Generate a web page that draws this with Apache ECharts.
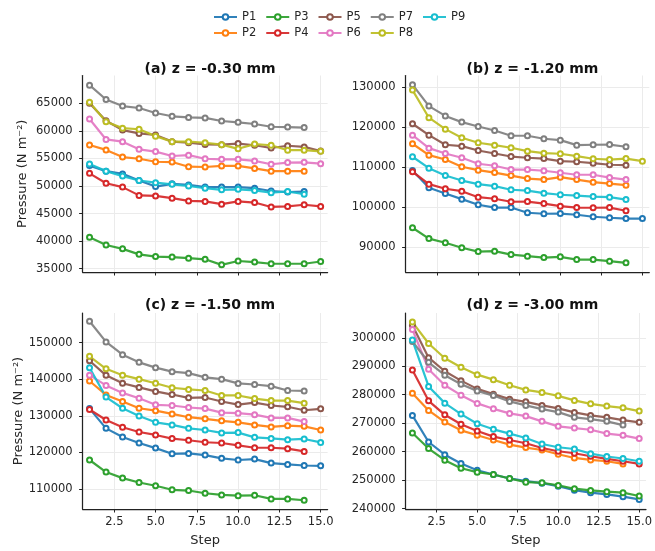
<!DOCTYPE html>
<html><head><meta charset="utf-8">
<script src="https://cdn.jsdelivr.net/npm/echarts@6/dist/echarts.min.js"></script>
<style>html,body{margin:0;padding:0;background:#fff}#c{width:655px;height:551px}</style>
</head><body><div id="c"></div>
<script>
const steps = [1,2,3,4,5,6,7,8,9,10,11,12,13,14,15];
const seriesNames = ['P1','P2','P3','P4','P5','P6','P7','P8','P9'];
const seriesColors = ['#1f77b4','#ff7f0e','#2ca02c','#d62728','#8c564b','#e377c2','#7f7f7f','#bcbd22','#17becf'];
const panelTitles = ['(a) z = -0.30 mm','(b) z = -1.20 mm','(c) z = -1.50 mm','(d) z = -3.00 mm'];
const xTicks = [2.5,5,7.5,10,12.5,15];
const yTicksA = [35000,40000,45000,50000,55000,60000,65000];
const yTicksB = [90000,100000,110000,120000,130000];
const yTicksC = [110000,120000,130000,140000,150000];
const yTicksD = [240000,250000,260000,270000,280000,290000,300000];

// panel (a) z = -0.30 mm : P1..P9
const panelA = [
  [53700,52700,52200,51000,49900,50400,50200,49800,49800,49800,49600,49100,48900,49000],
  [57450,56550,55250,54950,54400,54350,53500,53450,53650,53650,53200,52700,52700,52700],
  [40700,39300,38600,37600,37200,37100,36900,36700,35700,36400,36200,35900,35900,35900,36300],
  [52300,50500,49800,48300,48200,47800,47300,47200,46700,47200,47000,46200,46300,46600,46300],
  [65000,61850,60150,59550,59250,58050,57850,57550,57500,57700,57400,56900,57300,57100,56350],
  [62150,58450,58050,56650,56250,55450,55600,54950,54850,54850,54550,53950,54250,54300,54050],
  [68300,65700,64500,64150,63250,62650,62450,62350,61800,61550,61250,60750,60700,60600],
  [65200,61650,60500,60300,59050,58050,58050,57850,57500,56750,57600,57400,56500,56500,56300],
  [54000,52700,51800,51000,50600,50300,50000,49600,49300,49400,49200,48800,49000,48500]
];
// panel (b) z = -1.20 mm
const panelB = [
  [109150,104850,103400,102000,100600,99900,99900,98600,98350,98400,98100,97600,97350,97150,97150],
  [115850,113000,111900,110100,109250,108650,107900,107150,106900,107500,106900,106250,105900,105500],
  [94850,92150,91100,89850,88900,89000,88150,87750,87400,87600,86900,86900,86500,86100],
  [108850,105750,104600,104000,102500,102100,101350,101400,100900,100250,99900,99850,99900,99100],
  [120850,118000,115600,115250,114150,113400,112650,112350,112150,111500,111350,111000,110600,110500],
  [118000,114750,113400,112350,110850,110350,109400,109400,109100,108600,108100,108100,107400,106900],
  [130600,125250,122800,121250,120150,119150,117850,117850,117100,116750,115500,115600,115650,115100],
  [129250,122350,119500,117350,116100,115500,114850,114000,113500,113350,112750,112100,111900,112150,111500],
  [112600,109750,107900,106650,105750,105250,104350,104150,103500,103100,102900,102650,102500,101900]
];
// panel (c) z = -1.50 mm
const panelC = [
  [131950,126550,124200,122550,121150,119600,119700,119250,118350,117900,118150,117050,116700,116400,116300],
  [139500,135700,133900,132050,131400,130500,129600,129150,128600,128200,127500,126950,127300,127100,126100],
  [117900,114600,112950,111750,110850,109750,109550,108800,108350,108150,108250,107250,107250,106900],
  [131700,128850,126850,125550,124750,123750,123300,122750,122550,121900,121250,121250,121000,120250],
  [145050,141050,138900,137750,136650,135800,134900,135000,133900,133050,133600,132800,132450,131500,131900],
  [141100,138300,136250,134800,133000,132800,132250,131950,130850,130700,130300,129400,129400,128400],
  [155850,150200,146700,144600,143150,142050,141650,140500,140000,138850,138550,138100,136900,136800],
  [146250,142850,141100,140000,138900,137650,137200,136900,135550,135550,134700,134150,134150,133450],
  [143150,135100,132050,129950,128200,127500,126550,126100,125300,125400,124100,123800,123450,123650,122700]
];
// panel (d) z = -3.00 mm
const panelD = [
  [272750,263400,258950,255850,253500,252000,250600,249650,248950,247900,246500,245600,245000,244200,243250],
  [280550,274500,270400,267500,265750,264100,262500,261450,260600,259100,257800,257100,256650,255700],
  [266550,261100,257000,254200,252800,252000,250600,249300,249100,248150,247000,246400,245950,245600,244450],
  [288700,277850,272950,269650,267250,265300,264100,262950,261300,260150,259450,258400,257450,256650,255700],
  [304400,293000,288250,284950,282050,280200,278450,277500,276250,275200,273800,272750,272050,271100,270300],
  [302900,288950,283350,279850,276950,275050,273450,272500,270650,268900,268300,267700,266350,265750,264600],
  [298700,291400,286850,283700,281350,279700,277650,276250,274950,273900,272050,271450,270650,269350],
  [305500,298000,292800,289650,287050,285300,283350,281700,280800,279600,278000,276800,276000,275400,274250],
  [299200,282900,277050,273200,269800,267850,266350,264800,262700,261550,260950,259300,258300,257600,256650]
];

const panels = [panelA, panelB, panelC, panelD];
const yTickSets = [yTicksA, yTicksB, yTicksC, yTicksD];
const yRanges = [[34400,70050],[83800,132900],[104500,158100],[239875,308700]];

const FONT = 'DejaVu Sans';
const TXT = '#262626';
const grids = [
  {left: 82.6, top: 75.5, width: 245, height: 196.5},
  {left: 405.6, top: 75.5, width: 243.7, height: 196.5},
  {left: 82.6, top: 313, width: 245, height: 196},
  {left: 405.6, top: 313, width: 243.7, height: 196}
];

const chart = echarts.init(document.getElementById('c'), null, {renderer: 'canvas'});

const xAxes = grids.map((g, p) => ({
  type: 'value', gridIndex: p, min: 0.58, max: 15.42,
  name: p >= 2 ? 'Step' : '', nameLocation: 'middle', nameGap: 25,
  nameTextStyle: {fontFamily: FONT, fontSize: 13, color: TXT},
  axisLine: {show: true, lineStyle: {color: '#222', width: 1.25}},
  axisTick: {show: true, length: 3.5, lineStyle: {color: '#222', width: 1}, customValues: xTicks},
  axisLabel: {show: p >= 2, customValues: xTicks, margin: 7, fontFamily: FONT, fontSize: 11.5, color: TXT,
    formatter: v => Number(v).toFixed(1)},
  splitLine: {show: true, lineStyle: {color: '#ebebeb', width: 1}}
}));
const yAxes = grids.map((g, p) => ({
  type: 'value', gridIndex: p, min: yRanges[p][0], max: yRanges[p][1],
  name: (p % 2 === 0) ? 'Pressure (N m\u207B\u00B2)' : '', nameLocation: 'middle', nameGap: 53,
  nameTextStyle: {fontFamily: FONT, fontSize: 13, color: TXT},
  axisLine: {show: true, lineStyle: {color: '#222', width: 1.25}},
  axisTick: {show: true, length: 3.5, lineStyle: {color: '#222', width: 1}, customValues: yTickSets[p]},
  axisLabel: {show: true, customValues: yTickSets[p], margin: 10, fontFamily: FONT, fontSize: 11.5, color: TXT,
    formatter: v => String(Math.round(v))},
  splitLine: {show: true, lineStyle: {color: '#ebebeb', width: 1}}
}));

const series = [];
panels.forEach((panel, p) => {
  panel.forEach((vals, i) => {
    series.push({
      type: 'line', name: seriesNames[i], xAxisIndex: p, yAxisIndex: p,
      data: vals.map((v, k) => [steps[k], v]),
      symbol: 'emptyCircle', symbolSize: 5,
      lineStyle: {width: 2.2, color: seriesColors[i], opacity: 0.92},
      itemStyle: {color: seriesColors[i], borderColor: seriesColors[i], borderWidth: 1.1},
      emphasis: {disabled: true}, silent: true, animation: false
    });
  });
});

const titles = panelTitles.map((t, p) => ({
  text: t, left: grids[p].left + grids[p].width / 2, top: p < 2 ? 57 : 293, textAlign: 'center',
  textStyle: {fontFamily: FONT, fontSize: 14, fontWeight: 'bold', color: '#111'}
}));

const legendCommon = {
  orient: 'horizontal', left: 208, itemWidth: 23, itemHeight: 7, itemGap: 9,
  textStyle: {fontFamily: FONT, fontSize: 11.5, color: TXT}, selectedMode: false
};

chart.setOption({
  animation: false,
  color: seriesColors,
  title: titles,
  legend: [
    Object.assign({}, legendCommon, {top: 6, data: ['P1','P3','P5','P7','P9']}),
    Object.assign({}, legendCommon, {top: 22, data: ['P2','P4','P6','P8']})
  ],
  grid: grids,
  xAxis: xAxes,
  yAxis: yAxes,
  series: series
});
</script>
</body></html>
